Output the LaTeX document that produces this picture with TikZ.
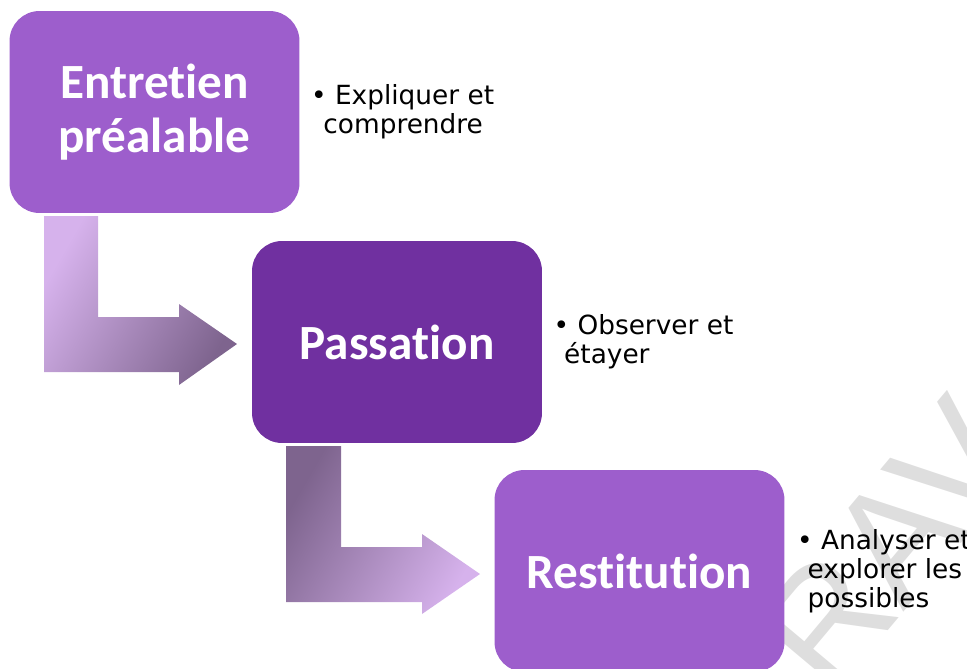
\documentclass[tikz,border=0pt]{standalone}
\usepackage{fontspec}
\setmainfont{DejaVu Sans}
\newfontfamily\titlefont[Ligatures=NoCommon]{Carlito}
\newfontfamily\markfont{Liberation Sans}
\usepackage{xcolor}
\usepackage{tikz}
\usetikzlibrary{positioning}

\definecolor{lightpurple}{RGB}{157,94,204}
\definecolor{darkpurple}{RGB}{112,48,160}
\definecolor{palearrow}{RGB}{214,178,236}
\definecolor{greyarrow}{RGB}{126,100,142}
\definecolor{markgrey}{RGB}{222,222,222}

\tikzset{
	stage/.style={rounded corners=0.6cm, minimum width=5.8cm, minimum height=4.04cm,
		inner sep=0pt, text=white, align=center,
		font=\titlefont\bfseries\fontsize{28}{31}\selectfont},
	note/.style={align=left, inner sep=0pt, font=\fontsize{15}{16.5}\selectfont},
}

\begin{document}
\begin{tikzpicture}[x=0.02cm, y=-0.02cm]
	\useasboundingbox (0,0) rectangle (967,669);
	% watermark
	\node[text=markgrey, rotate=50, inner sep=0pt, anchor=base west,
		font=\markfont\fontsize{90}{90}\selectfont] (mark) at (830,700) {RAV};
	% bent arrows
	\shade[top color=palearrow, bottom color=greyarrow, shading angle=60]
		(44,216) -- (98,216) -- (98,317) -- (179,317) -- (179,304) -- (237,344)
		-- (179,385) -- (179,372) -- (44,372) -- cycle;
	\shade[top color=greyarrow, bottom color=palearrow, shading angle=60]
		(286,446) -- (341,446) -- (341,547) -- (422,547) -- (422,534) -- (480,574)
		-- (422,614) -- (422,602) -- (286,602) -- cycle;
	% stages
	\node[stage, fill=lightpurple] (entretien) at (154.5,112) {Entretien\\préalable};
	\node[stage, fill=darkpurple] (passation) at (397,342) {Passation};
	\node[stage, fill=lightpurple] (restitution) at (639.5,571) {Restitution};
	% notes
	\node[note, right=0.22cm of entretien] (expliquer) {\textbullet\ Expliquer et\\\hspace*{7pt}comprendre};
	\node[note, right=0.22cm of passation] (observer) {\textbullet\ Observer et\\\hspace*{6pt}étayer};
	\node[note, right=0.24cm of restitution] (analyser) {\textbullet\ Analyser et\\\hspace*{6pt}explorer les\\\hspace*{6pt}possibles};
\end{tikzpicture}
\end{document}
